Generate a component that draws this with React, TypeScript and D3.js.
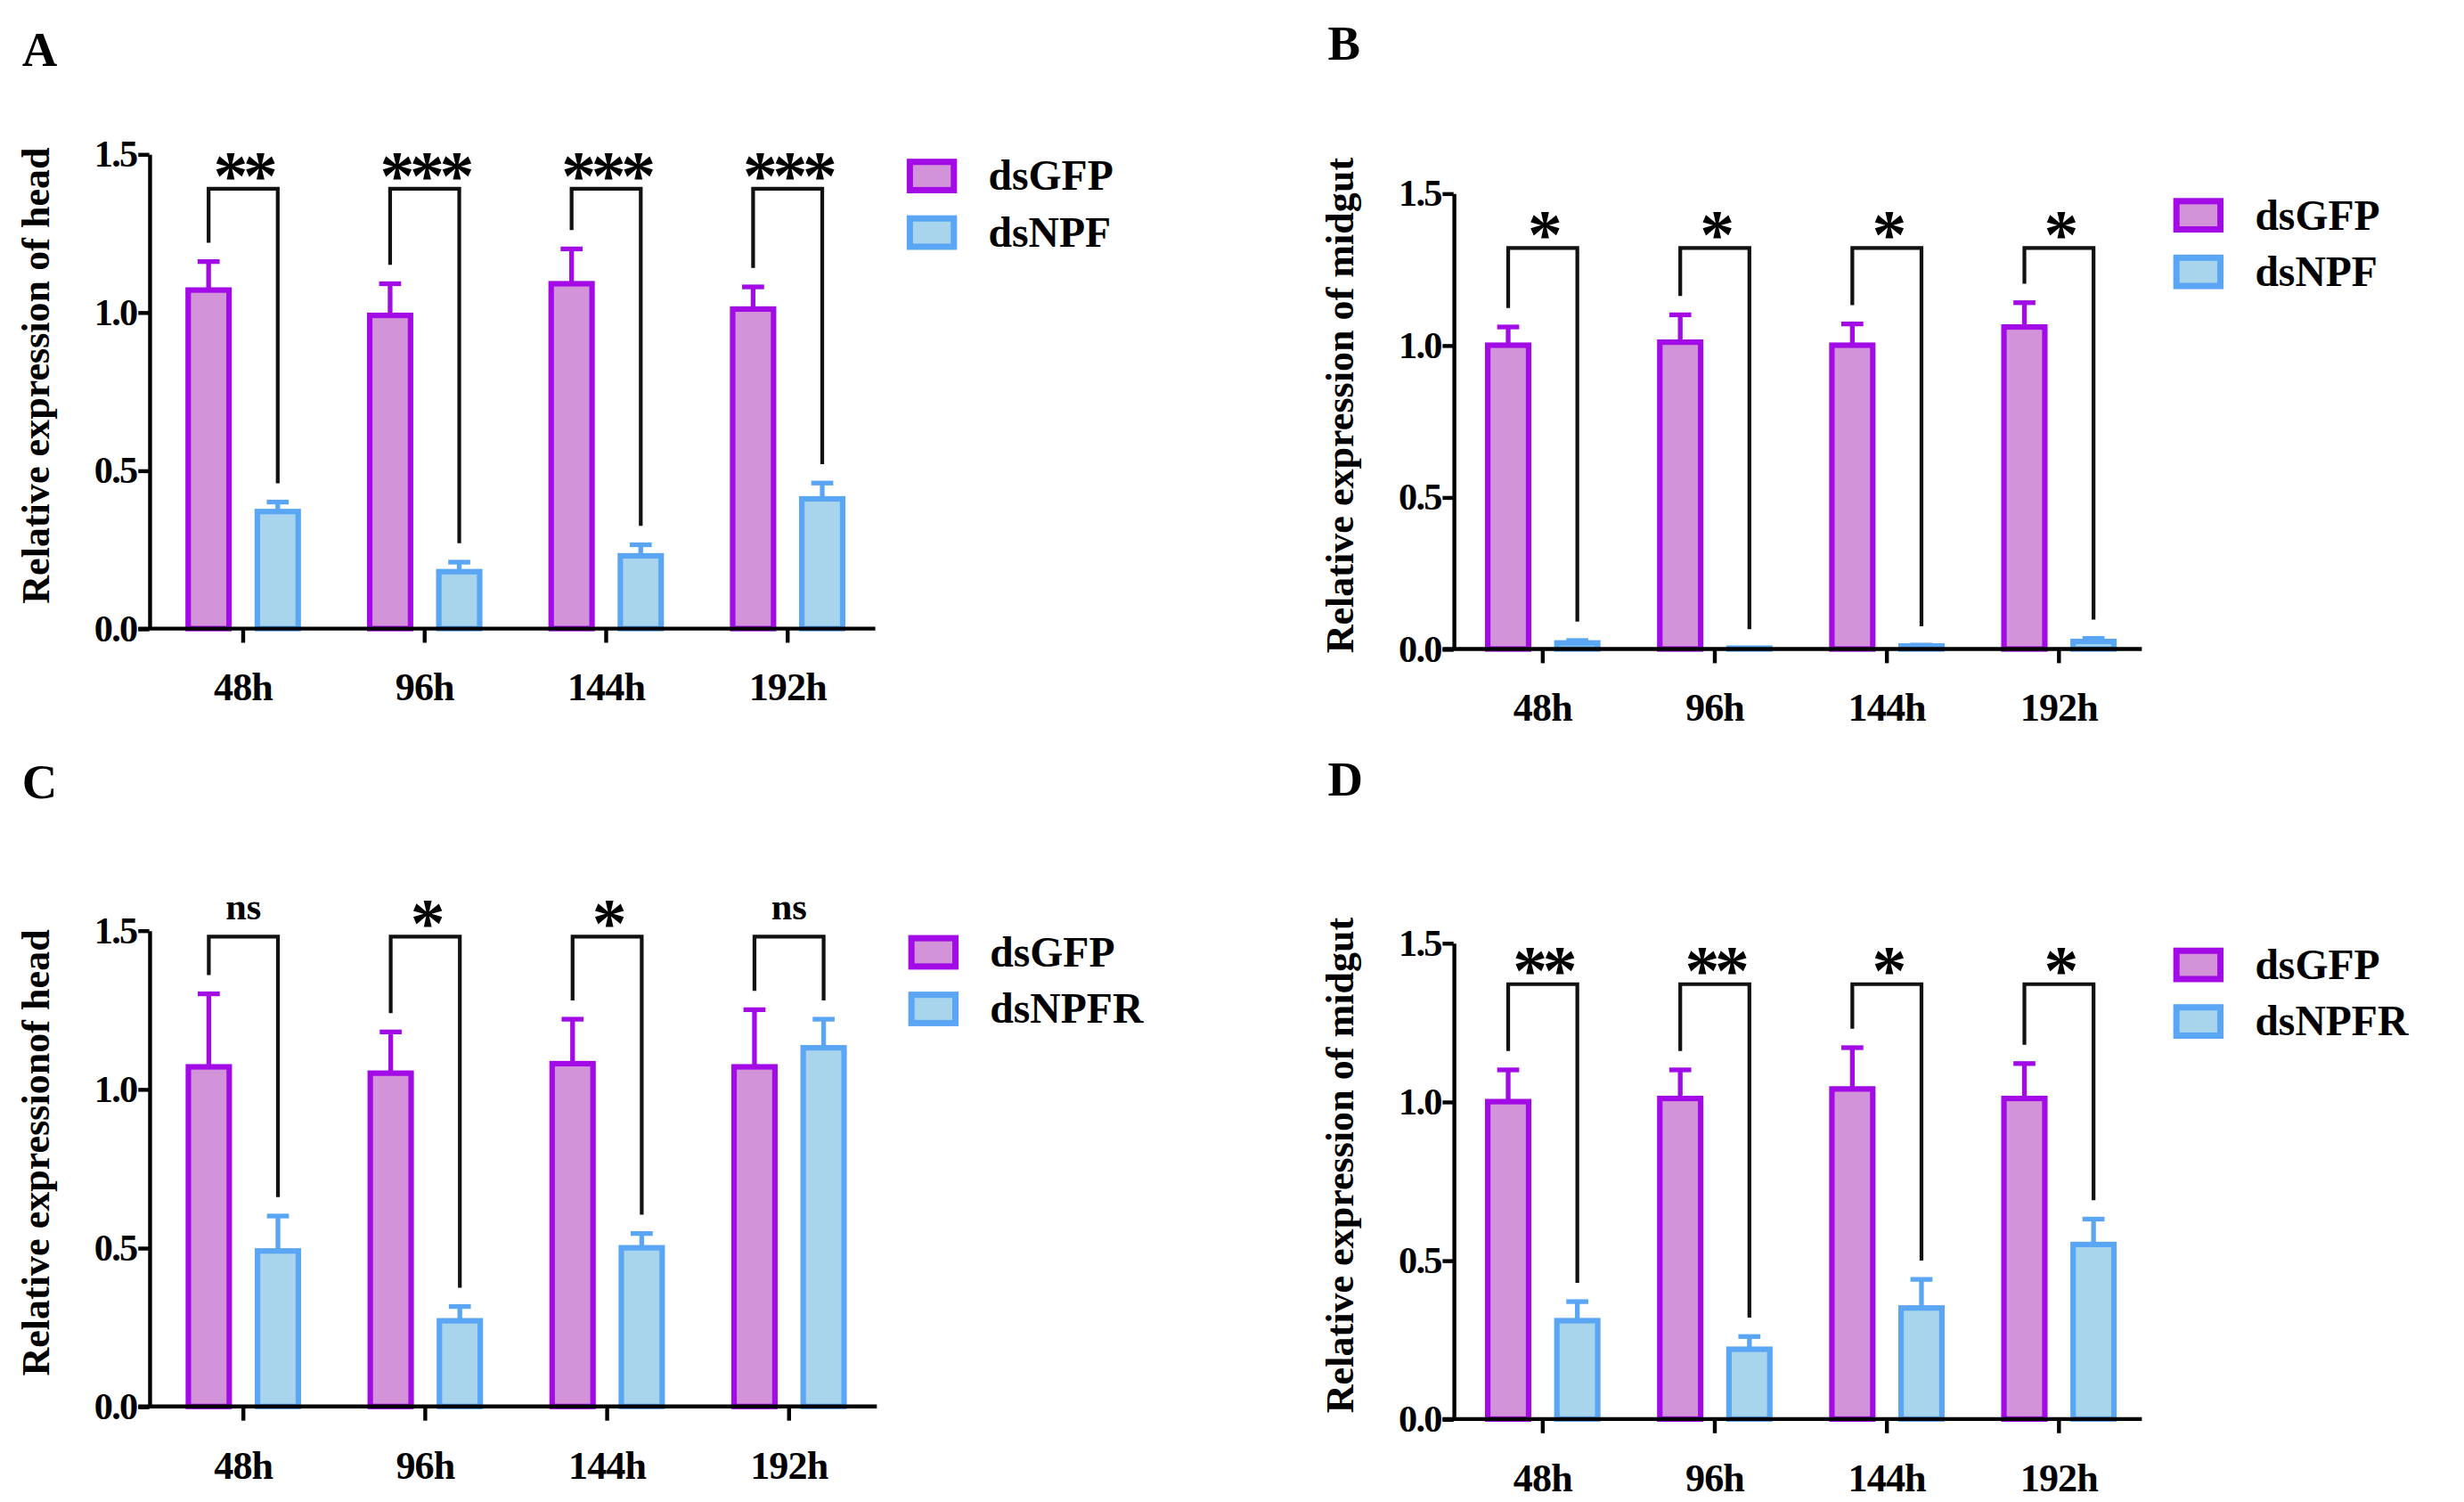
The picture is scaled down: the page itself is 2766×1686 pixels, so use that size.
import React, { useEffect, useRef } from "react";
import * as d3 from "d3";

const timePoints = ["48h", "96h", "144h", "192h"];

const headNpfGfp = [1.07, 0.99, 1.09, 1.01];
const headNpfGfpErr = [0.09, 0.1, 0.11, 0.07];
const headNpf = [0.37, 0.18, 0.23, 0.41];
const headNpfErr = [0.03, 0.03, 0.035, 0.05];
const headNpfSig = ["**", "***", "***", "***"];

const midgutNpfGfp = [1.0, 1.01, 1.0, 1.06];
const midgutNpfGfpErr = [0.06, 0.09, 0.07, 0.08];
const midgutNpf = [0.02, 0.003, 0.01, 0.025];
const midgutNpfErr = [0.008, 0.0, 0.003, 0.01];
const midgutNpfSig = ["*", "*", "*", "*"];

const headNpfrGfp = [1.07, 1.05, 1.08, 1.07];
const headNpfrGfpErr = [0.23, 0.13, 0.14, 0.18];
const headNpfr = [0.49, 0.27, 0.5, 1.13];
const headNpfrErr = [0.11, 0.045, 0.045, 0.09];
const headNpfrSig = ["ns", "*", "*", "ns"];

const midgutNpfrGfp = [1.0, 1.01, 1.04, 1.01];
const midgutNpfrGfpErr = [0.1, 0.09, 0.13, 0.11];
const midgutNpfr = [0.31, 0.22, 0.35, 0.55];
const midgutNpfrErr = [0.06, 0.04, 0.09, 0.08];
const midgutNpfrSig = ["**", "**", "*", "*"];

const yTicks = [0, 0.5, 1.0, 1.5];

const PURPLE = "#a20be6";
const PURPLE_FILL = "#d293d9";
const BLUE = "#5aa6f4";
const BLUE_FILL = "#a8d5ec";
const FONT = "'Liberation Serif', 'Times New Roman', serif";

interface Panel {
  letter: string;
  lx: number;
  ly: number;
  x0: number;
  x1: number;
  y0: number;
  y15: number;
  yTitle: string;
  legend2: string;
  gfp: number[];
  gfpErr: number[];
  ds: number[];
  dsErr: number[];
  sig: string[];
  bracket: number;
}

const panels: Panel[] = [
  { letter: "A", lx: 14, ly: 42, x0: 95, x1: 557, y0: 400, y15: 98, yTitle: "Relative expression of head", legend2: "dsNPF",
    gfp: headNpfGfp, gfpErr: headNpfGfpErr, ds: headNpf, dsErr: headNpfErr, sig: headNpfSig, bracket: 1.39 },
  { letter: "B", lx: 845, ly: 38, x0: 925, x1: 1363, y0: 413, y15: 123, yTitle: "Relative expression of midgut", legend2: "dsNPF",
    gfp: midgutNpfGfp, gfpErr: midgutNpfGfpErr, ds: midgutNpf, dsErr: midgutNpfErr, sig: midgutNpfSig, bracket: 1.32 },
  { letter: "C", lx: 14, ly: 508, x0: 95, x1: 558, y0: 895, y15: 592, yTitle: "Relative expressionof head", legend2: "dsNPFR",
    gfp: headNpfrGfp, gfpErr: headNpfrGfpErr, ds: headNpfr, dsErr: headNpfrErr, sig: headNpfrSig, bracket: 1.48 },
  { letter: "D", lx: 845, ly: 506, x0: 925, x1: 1363, y0: 903, y15: 600, yTitle: "Relative expression of midgut", legend2: "dsNPFR",
    gfp: midgutNpfrGfp, gfpErr: midgutNpfrGfpErr, ds: midgutNpfr, dsErr: midgutNpfrErr, sig: midgutNpfrSig, bracket: 1.37 },
];

function draw(root: SVGGElement) {
  const g0 = d3.select(root);
  g0.selectAll("*").remove();
  panels.forEach((p) => {
    const g = g0.append("g");
    const y = d3.scaleLinear().domain([0, 1.5]).range([p.y0, p.y15]);
    const x = d3.scaleBand().domain(timePoints).range([p.x0 + 2, p.x1 + 2]).paddingInner(0).paddingOuter(0);
    const bw = 26;
    const off = 22;
    const cx = (t: string) => (x(t) as number) + x.bandwidth() / 2;

    g.append("text").attr("x", p.lx).attr("y", p.ly).attr("font-family", FONT).attr("font-weight", "bold")
      .attr("font-size", 31).text(p.letter);

    const series = [
      { vals: p.gfp, err: p.gfpErr, dx: -off, stroke: PURPLE, fill: PURPLE_FILL },
      { vals: p.ds, err: p.dsErr, dx: off, stroke: BLUE, fill: BLUE_FILL },
    ];
    series.forEach((s) => {
      timePoints.forEach((t, i) => {
        const c = cx(t) + s.dx;
        const top = y(s.vals[i] + s.err[i]);
        if (s.err[i] > 0) {
          g.append("line").attr("x1", c).attr("x2", c).attr("y1", y(s.vals[i])).attr("y2", top)
            .attr("stroke", s.stroke).attr("stroke-width", 3);
          g.append("line").attr("x1", c - 7).attr("x2", c + 7).attr("y1", top).attr("y2", top)
            .attr("stroke", s.stroke).attr("stroke-width", 3);
        }
        const h = p.y0 - y(s.vals[i]);
        g.append("rect").attr("x", c - bw / 2).attr("y", y(s.vals[i])).attr("width", bw).attr("height", Math.max(h, 0))
          .attr("fill", s.fill).attr("stroke", s.stroke).attr("stroke-width", 3.5);
      });
    });

    // significance brackets
    timePoints.forEach((t, i) => {
      const lxp = cx(t) - off;
      const rxp = cx(t) + off;
      const by = y(p.bracket);
      const lEnd = y(p.gfp[i] + p.gfpErr[i]) - 12;
      const rEnd = y(p.ds[i] + p.dsErr[i]) - 12;
      g.append("path").attr("d", `M${lxp},${lEnd}V${by}H${rxp}V${rEnd}`)
        .attr("fill", "none").attr("stroke", "#111").attr("stroke-width", 2.4);
      const isNs = p.sig[i] === "ns";
      g.append("text").attr("x", cx(t)).attr("y", isNs ? by - 11 : by + 6).attr("text-anchor", "middle")
        .attr("font-family", FONT).attr("font-weight", "bold").attr("font-size", isNs ? 24 : 44)
        .attr("letter-spacing", isNs ? 0 : -3).text(p.sig[i]);
    });

    // axes
    const yAxis = g.append("g").attr("transform", `translate(${p.x0},0)`)
      .call(d3.axisLeft(y).tickValues(yTicks).tickFormat(d3.format(".1f")).tickSize(7).tickSizeOuter(0));
    yAxis.select(".domain").attr("stroke-width", 2.5);
    yAxis.selectAll(".tick line").attr("stroke-width", 2.5);
    yAxis.selectAll("text").attr("font-family", FONT).attr("font-weight", "bold").attr("font-size", 24).attr("x", -8)
      .attr("letter-spacing", -1);

    const xAxis = g.append("g").attr("transform", `translate(0,${p.y0})`)
      .call(d3.axisBottom(x).tickSize(9).tickSizeOuter(0));
    xAxis.select(".domain").attr("stroke-width", 2.5).attr("d", `M${p.x0 - 7},0H${p.x1}`);
    xAxis.selectAll(".tick line").attr("stroke-width", 2.5);
    xAxis.selectAll("text").attr("font-family", FONT).attr("font-weight", "bold").attr("font-size", 25).attr("dy", "1.35em")
      .attr("letter-spacing", -0.5);

    g.append("text").attr("transform", `translate(${p.x0 - 64},${(p.y0 + p.y15) / 2 - 10}) rotate(-90)`)
      .attr("text-anchor", "middle").attr("font-family", FONT).attr("font-weight", "bold").attr("font-size", 25)
      .text(p.yTitle);

    // legend
    const legX = p.x1 + 22;
    const legY = p.y15 + 5;
    [["dsGFP", PURPLE, PURPLE_FILL], [p.legend2, BLUE, BLUE_FILL]].forEach(([label, st, fi], i) => {
      const yy = legY + i * 36;
      g.append("rect").attr("x", legX).attr("y", yy).attr("width", 28).attr("height", 18)
        .attr("fill", fi).attr("stroke", st).attr("stroke-width", 4);
      g.append("text").attr("x", legX + 50).attr("y", yy + 18).attr("font-family", FONT).attr("font-weight", "bold")
        .attr("font-size", 27).text(label);
    });
  });
}

export default function App() {
  const ref = useRef<SVGGElement>(null);
  useEffect(() => {
    if (ref.current) draw(ref.current);
  }, []);
  const s = 2766 / 1568;
  return (
    <svg width={2766} height={1686} style={{ position: "absolute", left: 0, top: 0, background: "#fff" }}>
      <rect width={2766} height={1686} fill="#fff" />
      <g ref={ref} transform={`scale(${s})`} />
    </svg>
  );
}
